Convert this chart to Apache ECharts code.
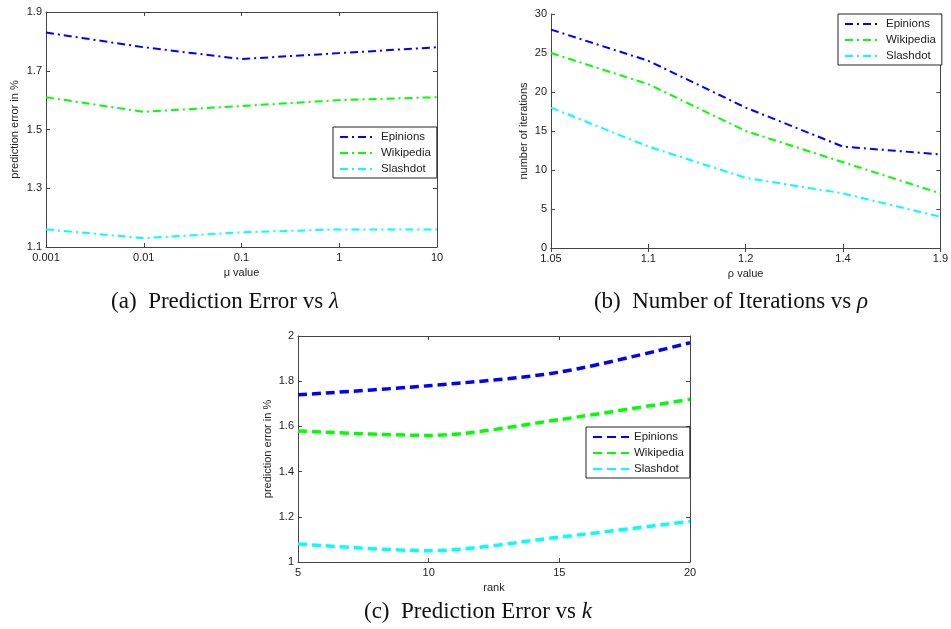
<!DOCTYPE html>
<html>
<head>
<meta charset="utf-8">
<script src="https://cdn.jsdelivr.net/npm/echarts@6/dist/echarts.min.js"></script>
<style>
  html, body { margin: 0; padding: 0; background: #fff; }
  #chart { width: 951px; height: 629px; }
</style>
</head>
<body>
<div id="chart"></div>
<script>
// données
const muLabels = ['0.001', '0.01', '0.1', '1', '10'];
const muEpinions = [1.83, 1.78, 1.74, 1.76, 1.78];
const muWikipedia = [1.61, 1.56, 1.58, 1.60, 1.61];
const muSlashdot = [1.16, 1.13, 1.15, 1.16, 1.16];

const rhoLabels = ['1.05', '1.1', '1.2', '1.4', '1.9'];
const rhoEpinions = [28, 24, 18, 13, 12];
const rhoWikipedia = [25, 21, 15, 11, 7];
const rhoSlashdot = [18, 13, 9, 7, 4];

const rankValues = [5, 10, 15, 20];
const rankEpinions = [1.74, 1.78, 1.84, 1.97];
const rankWikipedia = [1.58, 1.56, 1.63, 1.72];
const rankSlashdot = [1.08, 1.05, 1.11, 1.18];

const colors = { Epinions: '#0000ff', Wikipedia: '#00ff00', Slashdot: '#00ffff' };
const labelFont = { fontFamily: 'Liberation Sans', fontSize: 11, color: '#222' };
const axisCol = '#444';

const chart = echarts.init(document.getElementById('chart'));

function mainX(gridIndex, extra) {
  return Object.assign({
    gridIndex: gridIndex,
    nameLocation: 'middle',
    nameGap: 20,
    nameTextStyle: labelFont,
    axisLine: { lineStyle: { color: axisCol, width: 1 } },
    axisTick: { inside: true, length: 4, lineStyle: { color: axisCol } },
    axisLabel: Object.assign({ margin: 5 }, labelFont),
    splitLine: { show: false }
  }, extra);
}
function mainY(gridIndex, extra) {
  return Object.assign({
    gridIndex: gridIndex,
    type: 'value',
    nameLocation: 'middle',
    nameTextStyle: labelFont,
    axisLine: { show: true, lineStyle: { color: axisCol, width: 1 } },
    axisTick: { show: true, inside: true, length: 4, lineStyle: { color: axisCol } },
    axisLabel: Object.assign({ margin: 4 }, labelFont),
    splitLine: { show: false }
  }, extra);
}
// axes miroir (haut / droite) pour les graduations de style MATLAB
function mirrorX(gridIndex, extra) {
  return Object.assign({
    gridIndex: gridIndex, position: 'top',
    axisLine: { show: true, lineStyle: { color: axisCol } },
    axisTick: { inside: true, length: 4, lineStyle: { color: axisCol } },
    axisLabel: { show: false }, splitLine: { show: false }
  }, extra);
}
function mirrorY(gridIndex, extra) {
  return Object.assign({
    gridIndex: gridIndex, type: 'value', position: 'right',
    axisLine: { show: true, lineStyle: { color: axisCol } },
    axisTick: { show: true, inside: true, length: 4, lineStyle: { color: axisCol } },
    axisLabel: { show: false }, splitLine: { show: false }
  }, extra);
}

const dashDot = [8, 4, 2, 4];
const dashed = [9, 5];

function lineSeries(prefix, name, xi, yi, data, type, width, smooth) {
  return {
    name: prefix + name, type: 'line', xAxisIndex: xi, yAxisIndex: yi,
    data: data, showSymbol: false, symbol: 'none', symbolSize: 0, smooth: smooth,
    lineStyle: { color: colors[name], width: width, type: type },
    itemStyle: { color: colors[name] },
    emphasis: { disabled: true }
  };
}

function legendAt(prefix, left, top) {
  return {
    left: left, top: top, orient: 'vertical',
    data: ['Epinions', 'Wikipedia', 'Slashdot'].map(n => prefix + n),
    formatter: n => n.slice(2),
    borderColor: '#222', borderWidth: 1, borderRadius: 0,
    backgroundColor: '#fff',
    padding: [4, 6, 3, 6], itemGap: 4, itemWidth: 36, itemHeight: 10,
    itemStyle: { opacity: 0 },
    textStyle: Object.assign({}, labelFont, { fontSize: 11.5 }),
    selectedMode: false
  };
}

const rankPairs = arr => rankValues.map((x, i) => [x, arr[i]]);

const captionFont = { fontFamily: 'Liberation Serif', fontSize: 23, fill: '#111' };

const option = {
  animation: false,
  grid: [
    { left: 46, top: 12, width: 391, height: 235 },
    { left: 551, top: 14, width: 392, height: 234 },
    { left: 298, top: 336, width: 392, height: 226 }
  ],
  xAxis: [
    mainX(0, { type: 'category', data: muLabels, boundaryGap: false, name: 'μ value' }),
    mainX(1, { type: 'category', data: rhoLabels, boundaryGap: false, name: 'ρ value' }),
    mainX(2, { type: 'value', min: 5, max: 20, interval: 5, name: 'rank' }),
    mirrorX(0, { type: 'category', data: muLabels, boundaryGap: false }),
    mirrorX(1, { type: 'category', data: rhoLabels, boundaryGap: false }),
    mirrorX(2, { type: 'value', min: 5, max: 20, interval: 5 })
  ],
  yAxis: [
    mainY(0, { min: 1.1, max: 1.9, interval: 0.2, name: 'prediction error in %', nameGap: 26 }),
    mainY(1, { min: 0, max: 30, interval: 5, name: 'number of iterations', nameGap: 22 }),
    mainY(2, { min: 1, max: 2, interval: 0.2, name: 'prediction error in %', nameGap: 25 }),
    mirrorY(0, { min: 1.1, max: 1.9, interval: 0.2 }),
    mirrorY(1, { min: 0, max: 30, interval: 5 }),
    mirrorY(2, { min: 1, max: 2, interval: 0.2 })
  ],
  legend: [
    legendAt('a-', 333, 127),
    legendAt('b-', 838, 14),
    legendAt('c-', 586, 427)
  ],
  series: [
    lineSeries('a-', 'Epinions', 0, 0, muEpinions, dashDot, 2, false),
    lineSeries('a-', 'Wikipedia', 0, 0, muWikipedia, dashDot, 2, false),
    lineSeries('a-', 'Slashdot', 0, 0, muSlashdot, dashDot, 2, false),
    lineSeries('b-', 'Epinions', 1, 1, rhoEpinions, dashDot, 2, false),
    lineSeries('b-', 'Wikipedia', 1, 1, rhoWikipedia, dashDot, 2, false),
    lineSeries('b-', 'Slashdot', 1, 1, rhoSlashdot, dashDot, 2, false),
    lineSeries('c-', 'Epinions', 2, 2, rankPairs(rankEpinions), dashed, 3.5, 0.3),
    lineSeries('c-', 'Wikipedia', 2, 2, rankPairs(rankWikipedia), dashed, 3.5, 0.3),
    lineSeries('c-', 'Slashdot', 2, 2, rankPairs(rankSlashdot), dashed, 3.5, 0.3)
  ],
  graphic: [
    { type: 'text', x: 225, y: 302, style: {
        text: '{n|(a)  Prediction Error vs }{k|λ}', align: 'center', verticalAlign: 'middle',
        rich: { n: captionFont, k: Object.assign({ fontStyle: 'italic' }, captionFont) } } },
    { type: 'text', x: 731, y: 302, style: {
        text: '{n|(b)  Number of Iterations vs }{k|ρ}', align: 'center', verticalAlign: 'middle',
        rich: { n: captionFont, k: Object.assign({ fontStyle: 'italic' }, captionFont) } } },
    { type: 'text', x: 478, y: 612, style: {
        text: '{n|(c)  Prediction Error vs }{k|k}', align: 'center', verticalAlign: 'middle',
        rich: { n: captionFont, k: Object.assign({ fontStyle: 'italic' }, captionFont) } } }
  ]
};

chart.setOption(option);
</script>
</body>
</html>
